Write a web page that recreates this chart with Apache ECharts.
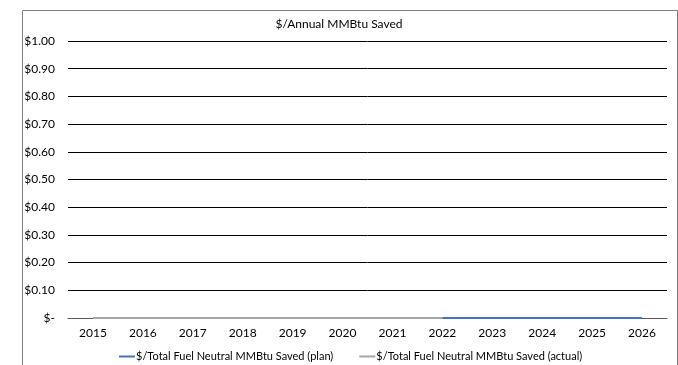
<!DOCTYPE html>
<html>
<head>
<meta charset="utf-8">
<script src="https://cdn.jsdelivr.net/npm/echarts@6/dist/echarts.min.js"></script>
<style>
html,body{margin:0;padding:0;background:#fff;}
#c{width:678px;height:365px;}
</style>
</head>
<body>
<div id="c"></div>
<script>
const years = ['2015','2016','2017','2018','2019','2020','2021','2022','2023','2024','2025','2026'];
const planValues = [null,null,null,null,null,null,null,0,0,0,0,0];
const actualValues = [0,0,0,0,0,0,0,0,null,null,null,null];
const seriesNames = ['$/Total Fuel Neutral MMBtu Saved (plan)','$/Total Fuel Neutral MMBtu Saved (actual)'];
const titleText = '$/Annual MMBtu Saved';

const FONT = 'Lato';
const chart = echarts.init(document.getElementById('c'), null, {renderer:'canvas'});
chart.setOption({
  animation:false,
  backgroundColor:'#fff',
  textStyle:{fontFamily:FONT},
  graphic:[{
    type:'rect', left:20, top:8, shape:{width:655, height:370},
    style:{fill:'none', stroke:'#7f7f7f', lineWidth:1}, silent:true, z:-1
  }],
  title:{
    text:titleText, left:'center', top:13,
    textStyle:{fontFamily:FONT, fontSize:12, fontWeight:'normal', color:'#000'}
  },
  legend:{
    left:114, top:346, itemWidth:16, itemHeight:2, itemGap:26,
    icon:'rect',
    textStyle:{fontFamily:FONT, fontSize:11, color:'#000', padding:[0,0,0,-4]},
    data:seriesNames
  },
  grid:{left:68, right:11, top:41, bottom:47, containLabel:false},
  xAxis:{
    type:'category', data:years, boundaryGap:true,
    axisLine:{show:true, lineStyle:{color:'#595959', width:1}},
    axisTick:{show:false},
    axisLabel:{fontFamily:FONT, fontSize:12, color:'#000', margin:9}
  },
  yAxis:{
    type:'value', min:0, max:1, interval:0.1,
    axisLine:{show:false}, axisTick:{show:false},
    splitLine:{show:true, lineStyle:{color:'#000', width:1}},
    axisLabel:{fontFamily:FONT, fontSize:12, color:'#000', margin:13,
      formatter:function(v){ return v===0 ? '$-' : '$' + v.toFixed(2); }}
  },
  series:[
    {name:seriesNames[0], type:'line', data:planValues, symbol:'none',
     lineStyle:{color:'#4472C4', width:2}, itemStyle:{color:'#4472C4'}, z:3},
    {name:seriesNames[1], type:'line', data:actualValues, symbol:'none',
     lineStyle:{color:'#A5A5A5', width:2}, itemStyle:{color:'#A5A5A5'}, z:4}
  ]
});
</script>
</body>
</html>
